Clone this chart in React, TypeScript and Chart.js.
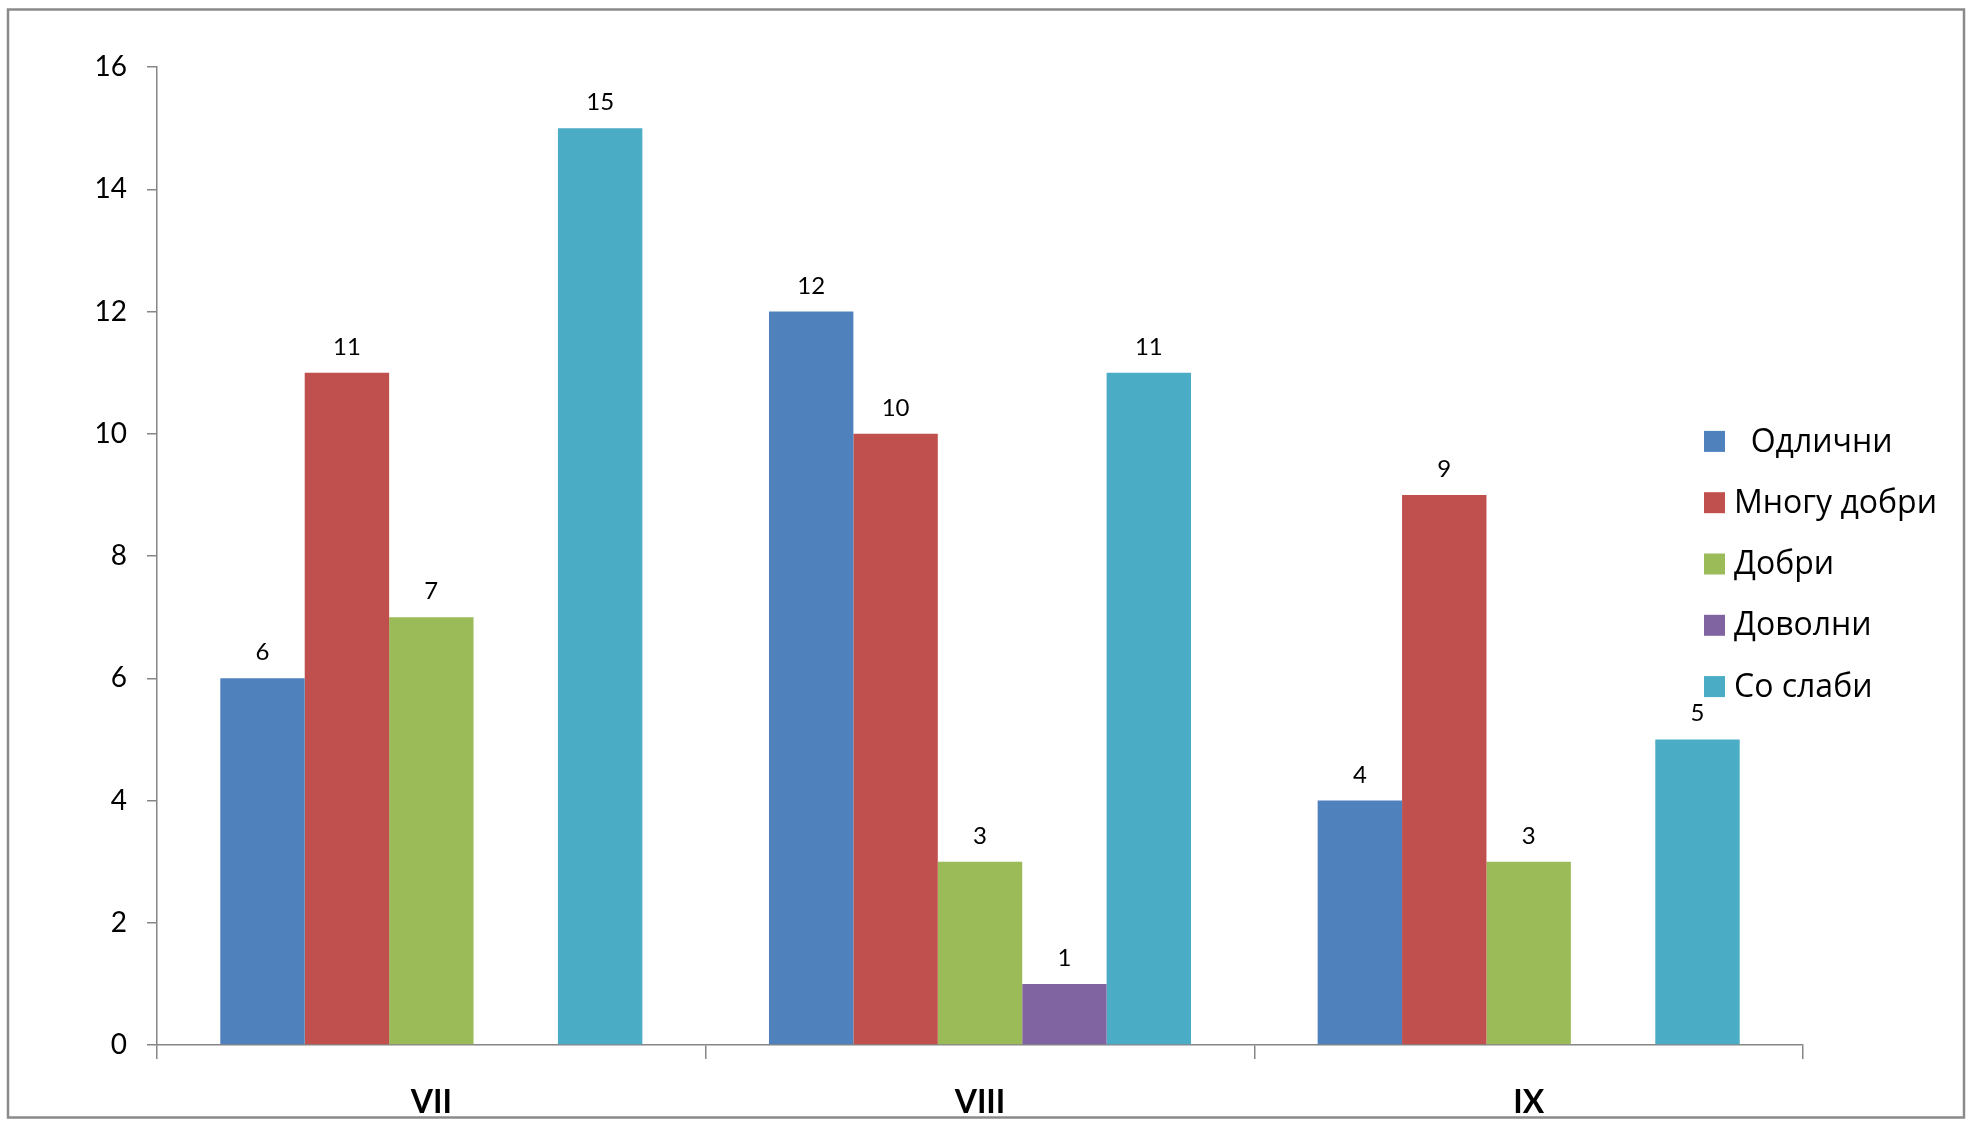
import React, { useEffect, useRef } from "react";
import { Chart, registerables } from "chart.js";

Chart.register(...registerables);

const categories = ["VII", "VIII", "IX"];
const seriesNames = ["  Одлични", "Многу добри", "Добри", "Доволни", "Со слаби"];
const odlicni = [6, 12, 4];
const mnoguDobri = [11, 10, 9];
const dobri = [7, 3, 3];
const dovolni = [null, 1, null];
const soSlabi = [15, 11, 5];
const seriesColors = ["#4F81BD", "#C0504D", "#9BBB59", "#8064A2", "#4BACC6"];
const yMin = 0;
const yMax = 16;
const yStep = 2;

const FONT = "Lato, 'Open Sans', sans-serif";
const LEGEND_FONT = "'Open Sans', Lato, sans-serif";

const framePlugin = {
  id: "frame",
  beforeDraw(chart: any) {
    const ctx = chart.ctx;
    ctx.save();
    ctx.fillStyle = "#ffffff";
    ctx.fillRect(0, 0, chart.width, chart.height);
    ctx.strokeStyle = "#8a8a8a";
    ctx.lineWidth = 2.5;
    ctx.strokeRect(8, 9.5, chart.width - 15, chart.height - 14);
    ctx.restore();
  },
};

const dataLabelPlugin = {
  id: "dataLabels",
  afterDatasetsDraw(chart: any) {
    const ctx = chart.ctx;
    ctx.save();
    ctx.font = `24px ${FONT}`;
    ctx.fillStyle = "#000";
    ctx.textAlign = "center";
    ctx.textBaseline = "alphabetic";
    chart.data.datasets.forEach((ds: any, di: number) => {
      const meta = chart.getDatasetMeta(di);
      meta.data.forEach((el: any, i: number) => {
        const v = ds.data[i];
        if (v === null || v === undefined) return;
        ctx.fillText(String(v), el.x, el.y - 18);
      });
    });
    ctx.restore();
  },
};

const legendPlugin = {
  id: "customLegend",
  afterDraw(chart: any) {
    const ctx = chart.ctx;
    const area = chart.chartArea;
    const x0 = area.right - 99;
    const spacing = 61.3;
    const n = chart.data.datasets.length;
    const yc = 564;
    ctx.save();
    ctx.font = `32px ${LEGEND_FONT}`;
    ctx.textAlign = "left";
    ctx.textBaseline = "middle";
    chart.data.datasets.forEach((ds: any, i: number) => {
      const y = yc + (i - (n - 1) / 2) * spacing;
      ctx.fillStyle = ds.backgroundColor;
      ctx.fillRect(x0, y - 10.5, 21, 21);
      ctx.fillStyle = "#000";
      ctx.fillText(ds.label, x0 + 30, y + 1);
    });
    ctx.restore();
  },
};

export default function App() {
  const ref = useRef<HTMLCanvasElement | null>(null);

  useEffect(() => {
    document.body.style.margin = "0";
    const canvas = ref.current;
    if (!canvas) return;
    const allData = [odlicni, mnoguDobri, dobri, dovolni, soSlabi];
    const chart = new Chart(canvas, {
      type: "bar",
      data: {
        labels: categories,
        datasets: allData.map((d, i) => ({
          label: seriesNames[i],
          data: d,
          backgroundColor: seriesColors[i],
          borderWidth: 0,
          categoryPercentage: 5 / 6.5,
          barPercentage: 1,
        })),
      },
      options: {
        responsive: false,
        animation: false,
        devicePixelRatio: 1,
        layout: { padding: { top: 67, right: 168, bottom: 0, left: 8 } },
        plugins: {
          legend: { display: false },
          tooltip: { enabled: false },
          title: { display: false },
        },
        scales: {
          x: {
            grid: {
              offset: true,
              drawOnChartArea: false,
              drawTicks: true,
              tickLength: 14,
              color: "#868686",
              lineWidth: 1.5,
            },
            border: { display: true, color: "#868686", width: 1.5 },
            ticks: {
              color: "#000",
              padding: 28,
              font: { family: FONT, size: 32, weight: "bold", lineHeight: 1 },
            },
            afterFit(scale: any) {
              scale.height = 77;
            },
          },
          y: {
            min: yMin,
            max: yMax,
            grid: {
              drawOnChartArea: false,
              drawTicks: true,
              tickLength: 10,
              color: "#868686",
              lineWidth: 1.5,
            },
            border: { display: true, color: "#868686", width: 1.5 },
            ticks: {
              stepSize: yStep,
              color: "#000",
              padding: 20,
              font: { family: FONT, size: 28 },
            },
            afterFit(scale: any) {
              scale.width = 149;
            },
          },
        },
      },
      plugins: [framePlugin, dataLabelPlugin, legendPlugin],
    } as any);
    return () => chart.destroy();
  }, []);

  return (
    <div style={{ width: 1971, height: 1122 }}>
      <canvas ref={ref} width={1971} height={1122} style={{ display: "block" }} />
    </div>
  );
}
